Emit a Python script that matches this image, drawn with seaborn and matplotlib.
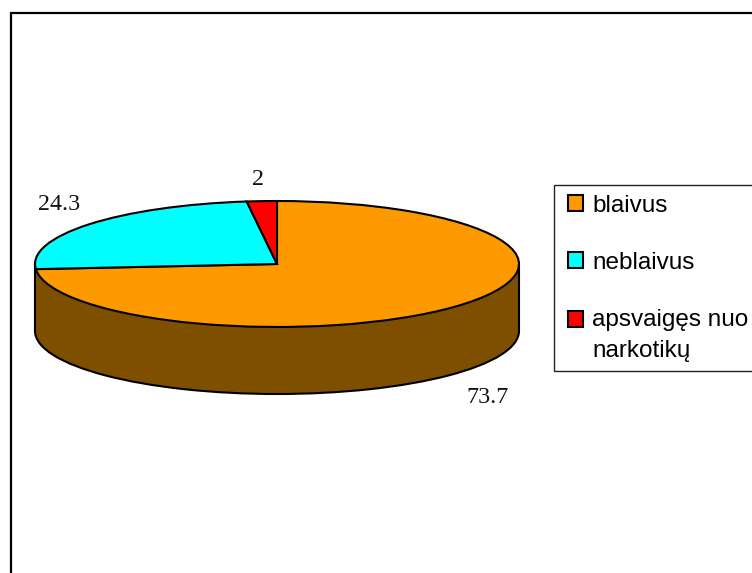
import matplotlib
matplotlib.use("Agg")
import matplotlib.pyplot as plt
from matplotlib.patches import Rectangle
import seaborn as sns

# Chart data
categories = ["blaivus", "neblaivus", "apsvaigęs nuo\nnarkotikų"]
values = [73.7, 24.3, 2]
value_labels = ["73.7", "24.3", "2"]

colors = ["#FF9900", "#00FFFF", "#FF0000"]
wall_color = "#7F4F00"

W, H = 752, 573
CX, CY = 277, 264   # pie centre in pixels
RX, RY = 242, 63    # ellipse radii in pixels
DEPTH = 67 / RY     # height of the side wall


def to_x(px):
    return (px - CX) / RX


def to_y(py):
    return (CY - py) / RY


sns.set_theme(style="white")
plt.rcParams["font.family"] = ["Liberation Sans", "DejaVu Sans"]

fig = plt.figure(figsize=(W / 100, H / 100), dpi=100, facecolor="white")
ax = fig.add_axes([0, 0, 1, 1])

edge = {"edgecolor": "black", "linewidth": 1.5}

# Side wall: a shifted full ellipse plus a band up to the top face
ax.pie([sum(values)], colors=[wall_color], center=(0, -DEPTH), wedgeprops=edge)
ax.add_patch(Rectangle((-1, -DEPTH), 2, DEPTH, facecolor=wall_color, edgecolor="none"))
ax.vlines([-1, 1], -DEPTH, 0, color="black", linewidth=1.5)

# Top face
wedges, _ = ax.pie(values, colors=colors, startangle=90, counterclock=False, wedgeprops=edge)

ax.set_aspect("auto")
ax.set_xlim(to_x(0), to_x(W))
ax.set_ylim(to_y(H), to_y(0))
ax.axis("off")

# Value labels
label_px = [(488, 398), (59, 205), (258, 180)]
for text, (px, py) in zip(value_labels, label_px):
    ax.text(to_x(px), to_y(py), text, ha="center", va="center", fontsize=17.3,
            family="Liberation Serif", color="#111111")

# Outer frame runs off the right and bottom of the picture
fig.add_artist(Rectangle((11 / W, -0.1), 1.1, 0.1 + (H - 13) / H,
                         transform=fig.transFigure, fill=False,
                         edgecolor="black", linewidth=1.6, zorder=-1))

# Legend box is cut by the right edge
fig.add_artist(Rectangle((554 / W, 1 - 371 / H), 0.5, 186 / H,
                         transform=fig.transFigure, facecolor="white",
                         edgecolor="#222222", linewidth=1.0, zorder=-1))

leg = ax.legend(wedges, categories, loc="upper left",
                bbox_to_anchor=(568 / W, 1 - 194.5 / H),
                bbox_transform=fig.transFigure, borderaxespad=0, borderpad=0,
                fontsize=17.5, frameon=False, labelspacing=1.45, handlelength=0.61,
                handleheight=0.61, handletextpad=0.38)
for t in leg.get_texts():
    t.set_color("black")
    t.set_linespacing(1.55)

# The handle of the wrapped label sits on its first line
handle = leg.legend_handles[2]
handle.set_y(handle.get_y() + 12)

fig.savefig("out.png", dpi=100)
